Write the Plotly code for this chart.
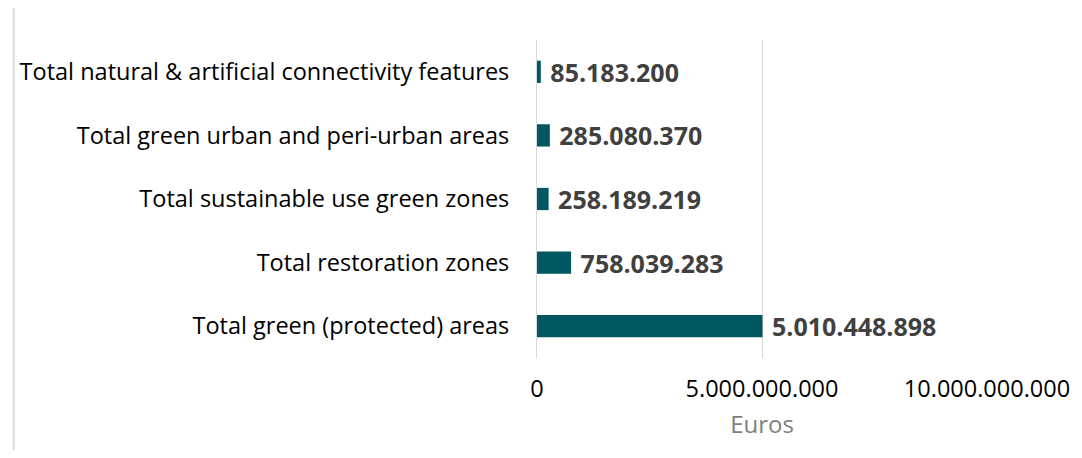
import plotly.graph_objects as go

categories = [
    "Total green (protected) areas",
    "Total restoration zones",
    "Total sustainable use green zones",
    "Total green urban and peri-urban areas",
    "Total natural & artificial connectivity features",
]
values = [5010448898, 758039283, 258189219, 285080370, 85183200]
value_labels = ["5.010.448.898", "758.039.283", "258.189.219", "285.080.370", "85.183.200"]
tick_vals = [0, 5000000000, 10000000000]
tick_text = ["0", "5.000.000.000", "10.000.000.000"]

FONT = "'Open Sans', Lato, sans-serif"

W, H = 1074, 450
L, T = 529, 32
PW, PH = 454, 318

fig = go.Figure(go.Bar(
    y=categories,
    x=values,
    orientation="h",
    marker=dict(color="#01575F", line=dict(width=0)),
    text=value_labels,
    texttemplate="\u00a0%{text}",
    textposition="outside",
    constraintext="none",
    textfont=dict(family=FONT, size=25, color="#404040", weight="bold"),
    cliponaxis=False,
))

fig.update_layout(
    width=W, height=H,
    margin=dict(l=L, r=W - L - PW, t=T, b=H - T - PH),
    paper_bgcolor="white", plot_bgcolor="white",
    bargap=0.65,
    showlegend=False,
    font=dict(family=FONT),
    shapes=[dict(type="line", xref="paper", yref="paper",
                 x0=-(L - 1) / PW, x1=-(L - 1) / PW,
                 y0=-92 / PH, y1=1 + T / PH,
                 line=dict(color="#d9d9d9", width=2))],
)
fig.update_xaxes(
    range=[0, 10000000000],
    tickvals=tick_vals, ticktext=tick_text,
    tickfont=dict(family=FONT, size=23.5, color="#000000"),
    showgrid=True, gridcolor="#d9d9d9", gridwidth=1,
    zeroline=False, showline=False,
    ticks="", ticklabelstandoff=14,
    title=dict(text="Euros", font=dict(family=FONT, size=24, color="#7f7f7f"), standoff=13),
)
fig.update_yaxes(
    tickfont=dict(family=FONT, size=23.5, color="#000000"),
    showgrid=False, zeroline=False,
    showline=True, linecolor="#d9d9d9", linewidth=1,
    ticks="", ticklabelstandoff=22,
)

fig.write_html("out.html")
